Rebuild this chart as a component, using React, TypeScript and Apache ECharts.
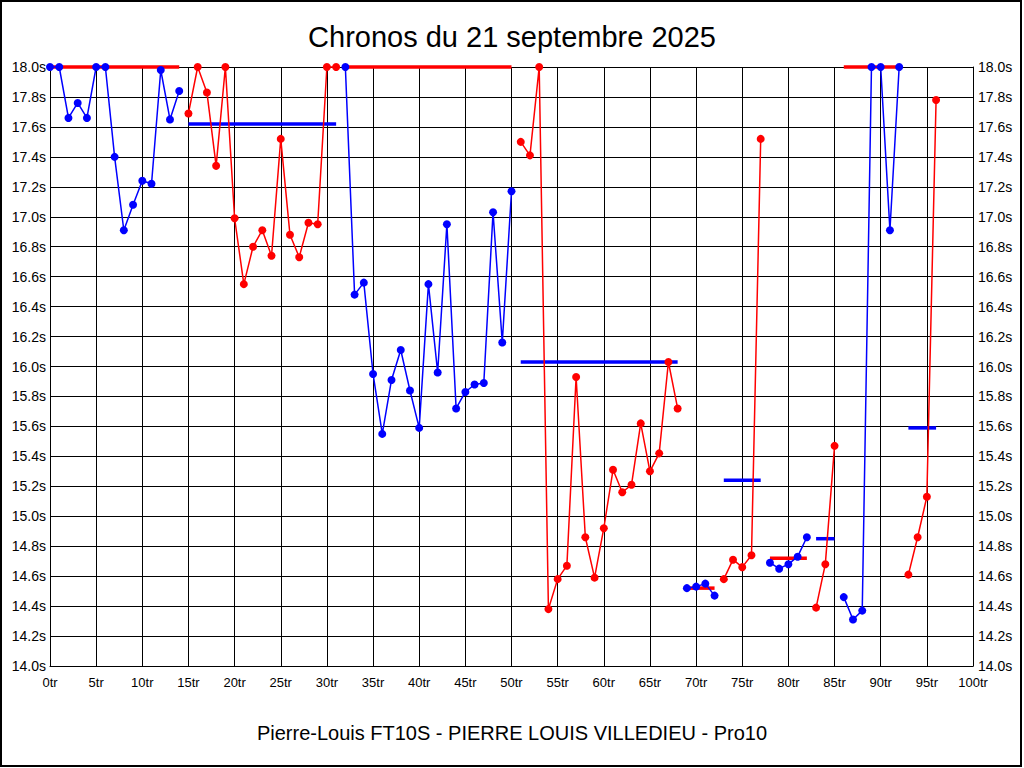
import React, { useEffect, useRef } from "react";
import * as echarts from "echarts";

const BLUE = "#0000ff";
const RED = "#ff0000";

const titleText = "Chronos du 21 septembre 2025";
const subtitleText = "Pierre-Louis FT10S - PIERRE LOUIS VILLEDIEU - Pro10";

// Each stint: first lap, lap times (s), colour of its points
const stintStarts = [0, 15, 32, 51, 69, 73, 78, 83, 86, 93];
const stintColors = ["blue", "red", "blue", "red", "blue", "red", "blue", "red", "blue", "red"];

const stint1 = [18.0, 18.0, 17.66, 17.76, 17.66, 18.0, 18.0, 17.4, 16.91, 17.08, 17.24, 17.22, 17.98, 17.65, 17.84];
const stint2 = [17.69, 18.0, 17.83, 17.34, 18.0, 16.99, 16.55, 16.8, 16.91, 16.74, 17.52, 16.88, 16.73, 16.96, 16.95, 18.0, 18.0];
const stint3 = [18.0, 16.48, 16.56, 15.95, 15.55, 15.91, 16.11, 15.84, 15.59, 16.55, 15.96, 16.95, 15.72, 15.83, 15.88, 15.89, 17.03, 16.16, 17.17];
const stint4 = [17.5, 17.41, 18.0, 14.38, 14.58, 14.67, 15.93, 14.86, 14.59, 14.92, 15.31, 15.16, 15.21, 15.62, 15.3, 15.42, 16.03, 15.72];
const stint5 = [14.52, 14.53, 14.55, 14.47];
const stint6 = [14.58, 14.71, 14.66, 14.74, 17.52];
const stint7 = [14.69, 14.65, 14.68, 14.73, 14.86];
const stint8 = [14.39, 14.68, 15.47];
const stint9 = [14.46, 14.31, 14.37, 18.0, 18.0, 16.91, 18.0];
const stint10 = [14.61, 14.86, 15.13, 17.78];

const stints = [stint1, stint2, stint3, stint4, stint5, stint6, stint7, stint8, stint9, stint10];

// Average line per stint (drawn in the opposite colour)
const stintAverages = [18.0, 17.62, 18.0, 16.03, 14.52, 15.24, 14.72, 14.85, 18.0, 15.59];

const xMin = 0;
const xMax = 100;
const xStep = 5;
const yMin = 14.0;
const yMax = 18.0;
const yStep = 0.2;

const FONT = "Arial, Liberation Sans, sans-serif";

export default function App() {
  const ref = useRef<HTMLDivElement>(null);

  useEffect(() => {
    document.body.style.margin = "0";
    if (!ref.current) return;
    const chart = echarts.init(ref.current, undefined, { renderer: "svg" });

    const colorOf = (c: string) => (c === "blue" ? BLUE : RED);
    const opposite = (c: string) => (c === "blue" ? RED : BLUE);

    const avgSeries = stints.map((vals, i) => {
      const start = stintStarts[i];
      const end = start + vals.length - 1;
      return {
        type: "line",
        data: [
          [start, stintAverages[i]],
          [end, stintAverages[i]],
        ],
        symbol: "none",
        lineStyle: { color: opposite(stintColors[i]), width: 3.5 },
        z: 2,
        clip: false,
        silent: true,
      };
    });

    const lapSeries = stints.map((vals, i) => {
      const start = stintStarts[i];
      const col = colorOf(stintColors[i]);
      return {
        type: "line",
        data: vals.map((v, k) => [start + k, v]),
        symbol: "circle",
        symbolSize: 8,
        itemStyle: { color: col },
        lineStyle: { color: col, width: 1.5 },
        z: 3,
        clip: false,
      };
    });

    const yAxisCommon = {
      type: "value",
      min: yMin,
      max: yMax,
      interval: yStep,
      axisLine: { show: true, lineStyle: { color: "#000", width: 1 } },
      axisTick: { show: false },
      splitLine: { show: true, lineStyle: { color: "#000", width: 1 } },
      axisLabel: {
        color: "#000",
        fontSize: 14,
        fontFamily: FONT,
        formatter: (v: number) => v.toFixed(1) + "s",
      },
    };

    chart.setOption({
      animation: false,
      backgroundColor: "#fff",
      title: {
        text: titleText,
        left: "center",
        top: 17,
        textStyle: {
          fontSize: 29,
          fontWeight: "normal",
          color: "#000",
          fontFamily: FONT,
        },
      },
      grid: { left: 50, right: 51, top: 67, bottom: 102, containLabel: false },
      xAxis: {
        type: "value",
        min: xMin,
        max: xMax,
        interval: xStep,
        axisLine: { show: true, lineStyle: { color: "#000", width: 1 } },
        axisTick: { show: false },
        splitLine: { show: true, lineStyle: { color: "#000", width: 1 } },
        axisLabel: {
          color: "#000",
          fontSize: 13,
          margin: 10,
          fontFamily: FONT,
          formatter: (v: number) => v + "tr",
        },
      },
      yAxis: [
        { ...yAxisCommon, position: "left", axisLabel: { ...yAxisCommon.axisLabel, margin: 4 } },
        { ...yAxisCommon, position: "right", axisLabel: { ...yAxisCommon.axisLabel, margin: 5 } },
      ],
      graphic: [
        {
          type: "rect",
          shape: { x: 1, y: 1, width: 1020, height: 765 },
          style: { fill: "none", stroke: "#000", lineWidth: 2 },
          silent: true,
        },
        {
          type: "text",
          x: 512,
          y: 733,
          style: {
            text: subtitleText,
            fill: "#000",
            fontSize: 20,
            fontFamily: FONT,
            textAlign: "center",
            textVerticalAlign: "middle",
          },
        },
      ],
      series: [...avgSeries, ...lapSeries],
    });

    return () => chart.dispose();
  }, []);

  return <div ref={ref} style={{ width: 1024, height: 768 }} />;
}
